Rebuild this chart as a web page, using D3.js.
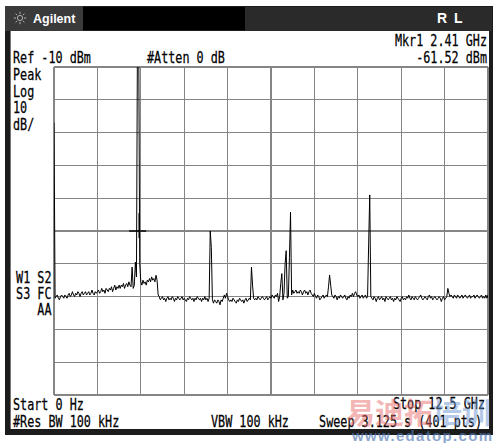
<!DOCTYPE html>
<html><head><meta charset="utf-8">
<script src="https://cdn.jsdelivr.net/npm/d3@7"></script>
<style>
html,body{margin:0;padding:0;background:#fff;}
svg{display:block;}
</style></head>
<body>
<svg id="c" width="500" height="443"></svg>
<script>
// ---- data ----
const startGHz = 0, stopGHz = 12.5, nPts = 401;
const refLevel = -10, dbPerDiv = 10, nDivY = 10, nDivX = 10;
const traceDbm = [
 -27,-80.5,-80,-79.5,-80.5,-81,-80,-79.5,-80,-80.5,
 -79.5,-80,-80.5,-79.5,-79,-80,-79.5,-78.5,-79.5,-80,
 -79,-79.5,-78.5,-79,-80,-79,-78.5,-79.5,-79,-78.5,
 -79.5,-79,-78.5,-79.5,-79,-78,-79,-79.5,-78.5,-79,
 -78.5,-78,-79,-78.5,-77.5,-78.5,-78,-79,-77.5,-78,
 -78.5,-77.5,-78,-77,-78.5,-77.5,-76.5,-78,-77,-77.5,
 -76.5,-77.5,-76.5,-77,-76,-77.5,-76.5,-76,-77,-75.5,
 -76.5,-77,-71,-77.5,-76.5,-69.5,-74,5,5,-70,
 -75.5,-76.5,-75,-76,-75.5,-76.5,-75,-75.5,-74.5,-75.5,
 -74,-75,-74.5,-75.5,-73.5,-75,-79.5,-80,-81,-80.5,
 -80,-81,-80.5,-81.5,-80.5,-80,-81,-80.5,-81,-80,
 -80.5,-81.5,-80.5,-81,-80,-80.5,-81,-80.5,-80,-81,
 -80.5,-81,-81.5,-80.5,-81,-80,-80.5,-81,-80.5,-81.5,
 -80.5,-81,-80,-80.5,-81,-80.5,-81.5,-80.5,-81,-80,
 -81,-80.5,-81.5,-80.5,-60,-65,-81,-82,-81,-81.5,
 -82,-81,-81.5,-82.5,-81,-81.5,-80.5,-79.5,-80.5,-79,
 -80,-81,-81.5,-81,-81.5,-80.5,-81,-81.5,-82,-81,
 -81.5,-80.5,-81,-81.5,-81,-82,-81,-80.5,-81.5,-81,
 -80.5,-81,-71,-76.5,-80.5,-81,-80.5,-81,-80,-80.5,
 -81,-80.5,-80,-80.5,-81,-80.5,-80,-81,-80.5,-80,
 -80.5,-79.5,-80,-80.5,-79.5,-80,-79,-81.5,-80,-76,
 -73,-81,-79,-70,-66,-80.5,-80,-68,-54.3,-79.5,
 -78,-79,-78.5,-78,-79,-78.5,-79,-78,-78.5,-79.5,
 -78.5,-78,-79,-78.5,-79.5,-78.5,-78,-79,-79.5,-80,
 -79,-80,-80.5,-79.5,-80,-81,-80.5,-80,-79.5,-80.5,
 -80,-79.5,-80,-77,-73.4,-76.5,-79.5,-80,-80.5,-79.5,
 -80,-81,-80,-80.5,-79.5,-80,-80.5,-80,-79.5,-80.5,
 -81,-80,-80.5,-79.5,-80,-79,-80,-79,-78.5,-79.5,
 -80,-79.5,-80.5,-80,-79.5,-80.5,-80,-79.5,-80.5,-80,
 -64,-49,-80,-80.5,-81,-80,-80.5,-81.5,-80.5,-80,
 -81,-80.5,-80,-81,-80.5,-81.5,-80,-80.5,-81,-80.5,
 -80,-81,-80.5,-81.5,-80.5,-81,-80,-80.5,-81,-81.5,
 -80.5,-80,-81,-80.5,-81,-80,-80.5,-79.5,-80.5,-81,
 -80,-80.5,-81,-80,-80.5,-81,-80.5,-80,-79.5,-80.5,
 -81,-80.5,-80,-80.5,-81,-80,-79.5,-80.5,-80,-81,
 -80.5,-80,-80.5,-81,-80.5,-80,-80.5,-81.5,-80.5,-80,
 -81,-80.5,-80,-77.5,-79,-80,-79.5,-80,-80.5,-79.5,
 -80,-80.5,-79.5,-80,-80.5,-80,-79.5,-80.5,-80,-79.5,
 -80,-80.5,-80,-79.5,-80.5,-80,-80,-79.5,-80.5,-80,
 -79.5,-80,-80.5,-80,-79.5,-80.5,-80,-80.5,-79.5,-80.5,
 -79.5
];
const marker = {ghz: 2.41, dbm: -61.52, crossDbm: -60};
const topLeftLabels = ["Ref -10 dBm", "#Atten 0 dB"];
const markerLabels = ["Mkr1  2.41 GHz", "-61.52 dBm"];
const sideLabels = ["Peak", "Log", "10", "dB/"];
const sideLabels2 = ["W1 S2", "S3 FC", "AA"];
const bottomLabels = {start: "Start 0 Hz", stop: "Stop 12.5 GHz", rbw: "#Res BW 100 kHz", vbw: "VBW 100 kHz", sweep: "Sweep 3.125 s (401 pts)"};

// ---- drawing ----
const svg = d3.select("#c");
const L = 54, R = 488, T = 67, B = 395;
const x = d3.scaleLinear().domain([startGHz, stopGHz]).range([L, R]);
const y = d3.scaleLinear().domain([refLevel - dbPerDiv*nDivY, refLevel]).range([B, T]);

// frame
svg.append("rect").attr("x",5).attr("y",6).attr("width",488).attr("height",429).attr("fill","#1c1c1c");
svg.append("rect").attr("x",5).attr("y",6).attr("width",78).attr("height",25).attr("fill","#3a3a3a");
svg.append("rect").attr("x",83).attr("y",7).attr("width",162).attr("height",23).attr("fill","#000");
svg.append("rect").attr("x",245).attr("y",7).attr("width",247).attr("height",24).attr("fill","#2a2a2a");
svg.append("rect").attr("x",10).attr("y",31).attr("width",1).attr("height",398).attr("fill","#777");
svg.append("rect").attr("x",11).attr("y",31).attr("width",478).attr("height",398).attr("fill","#fff");

// sun icon
const sun = svg.append("g").attr("transform","translate(20,18)").attr("stroke","#b0b0b0").attr("fill","none").attr("stroke-width",1);
sun.append("circle").attr("r",2.6);
d3.range(8).forEach(k=>{const a=k*Math.PI/4;
  sun.append("line").attr("x1",Math.cos(a)*4).attr("y1",Math.sin(a)*4).attr("x2",Math.cos(a)*6.2).attr("y2",Math.sin(a)*6.2);});
svg.append("text").attr("x",33).attr("y",23).attr("fill","#fff").attr("font-family","Liberation Sans, Arial, sans-serif")
  .attr("font-weight","bold").attr("font-size",12.5).text("Agilent");
svg.append("text").attr("x",437).attr("y",23).attr("fill","#fff").attr("font-family","Liberation Sans, Arial, sans-serif")
  .attr("font-weight","bold").attr("font-size",14).attr("letter-spacing",1.5).text("R L");

// grid
const grid = svg.append("g").attr("stroke","#858585").attr("stroke-width",1.2).attr("shape-rendering","crispEdges");
d3.range(nDivX+1).forEach(k=>{const gx = x(startGHz + k*(stopGHz-startGHz)/nDivX);
  grid.append("line").attr("x1",gx).attr("x2",gx).attr("y1",T).attr("y2",B);});
d3.range(nDivY+1).forEach(k=>{const gy = y(refLevel - k*dbPerDiv);
  grid.append("line").attr("x1",L).attr("x2",R).attr("y1",gy).attr("y2",gy);});

// trace
svg.append("clipPath").attr("id","pc").append("rect").attr("x",L).attr("y",T).attr("width",R-L).attr("height",B-T);
const step = (stopGHz-startGHz)/(nPts-1);
const line = d3.line().x((d,i)=>x(startGHz + i*step)).y(d=>y(d));
svg.append("path").attr("clip-path","url(#pc)").attr("d",line(traceDbm))
  .attr("fill","none").attr("stroke","#000").attr("stroke-width",1).attr("stroke-linejoin","miter");

// marker crosshair
const mx = x(marker.ghz), my = y(marker.crossDbm);
svg.append("line").attr("x1",mx-8.5).attr("x2",mx+8.5).attr("y1",my).attr("y2",my).attr("stroke","#000").attr("stroke-width",1.4);
svg.append("line").attr("x1",mx+1.5).attr("x2",mx+1.5).attr("y1",my-18).attr("y2",my+7).attr("stroke","#000").attr("stroke-width",1.4);

// annotation text
function mono(tx, ty, s, anchor){
  svg.append("text").attr("transform",`translate(${tx},${ty}) scale(0.76,1)`)
    .attr("font-family","DejaVu Sans Mono, monospace").attr("font-size",15.5).attr("fill","#000")
    .attr("stroke","#000").attr("stroke-width",0.25)
    .attr("text-anchor",anchor||"start").text(s);
}
mono(13, 63, topLeftLabels[0]);
mono(147, 63, topLeftLabels[1]);
mono(487, 46, markerLabels[0], "end");
mono(487, 63, markerLabels[1], "end");
sideLabels.forEach((s,i)=>mono(13, 80 + i*16.5, s));
sideLabels2.forEach((s,i)=>mono(51.5, 283 + i*16, s, "end"));
mono(13, 410, bottomLabels.start);
mono(13, 427, bottomLabels.rbw);
mono(211, 427, bottomLabels.vbw);
mono(485, 409, bottomLabels.stop, "end");
mono(482, 427, bottomLabels.sweep, "end");

// watermark (semi-transparent overlay, as in the reference)
svg.append("text").attr("x",346).attr("y",424).attr("font-family","Noto Sans CJK SC").attr("font-weight","bold")
  .attr("font-size",29).attr("fill","rgb(235,110,110)").attr("opacity",0.5).text("易迪拓");
svg.append("text").attr("x",433).attr("y",424).attr("font-family","Noto Sans CJK SC").attr("font-weight","bold")
  .attr("font-size",29).attr("fill","rgb(110,150,210)").attr("opacity",0.5).text("培训");
svg.append("text").attr("x",352).attr("y",441).attr("font-family","Liberation Sans, Arial, sans-serif").attr("font-weight","bold")
  .attr("font-size",15).attr("fill","rgb(80,120,180)").attr("opacity",0.65).attr("textLength",140).text("www.edatop.com");
</script>
</body></html>
